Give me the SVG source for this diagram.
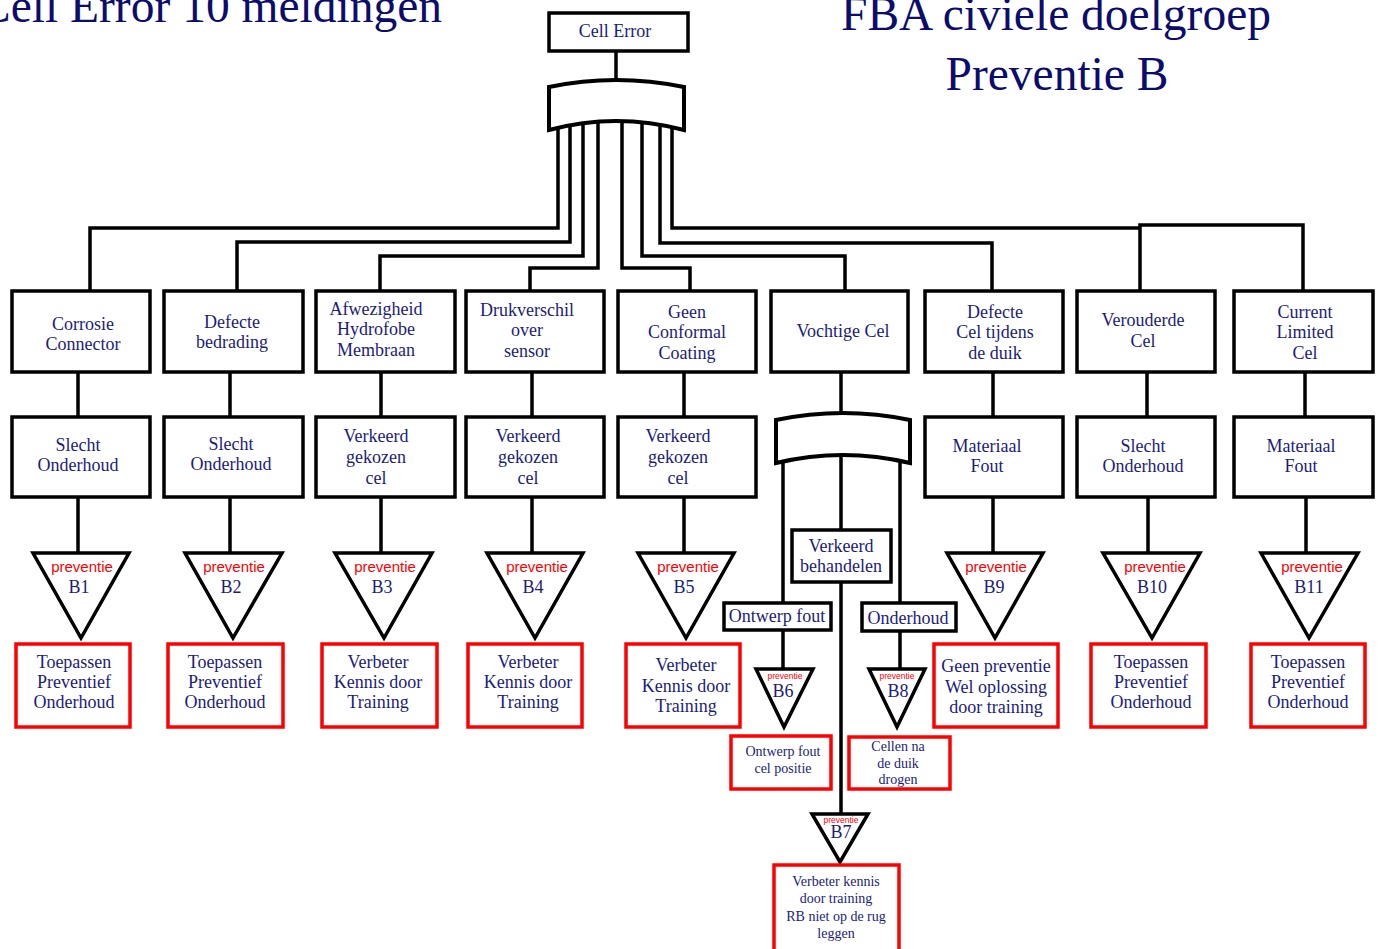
<svg xmlns="http://www.w3.org/2000/svg" width="1380" height="949" viewBox="0 0 1380 949">
<style>
.bg{fill:#fff}
.box{fill:#fff;stroke:#000;stroke-width:3.5}
.rbox{fill:#fff;stroke:#f00;stroke-width:3.5}
.tri{fill:#fff;stroke:#000;stroke-width:3.5;stroke-linejoin:miter}
.gate{fill:#fff;stroke:#000;stroke-width:4}
.con path{fill:none;stroke:#000;stroke-width:3.5}
.t{font-family:"Liberation Serif","Times New Roman",serif;font-size:18px;fill:#1c1c7a;text-anchor:middle}
.ts{font-family:"Liberation Serif","Times New Roman",serif;font-size:14px;fill:#1c1c7a;text-anchor:middle}
.p{font-family:"Liberation Sans",Arial,sans-serif;font-size:15px;fill:#f00;text-anchor:middle}
.ps{font-family:"Liberation Sans",Arial,sans-serif;font-size:8.5px;fill:#f00;text-anchor:middle}
.title{font-family:"Liberation Serif","Times New Roman",serif;font-size:47.5px;fill:#0c0c6c}
</style>
<rect class="bg" x="0" y="0" width="1380" height="949"/>
<g id="titles">
<text class="title" x="-21" y="22">Cell Error 10 meldingen</text>
<text class="title" x="1056" y="30" text-anchor="middle">FBA civiele doelgroep</text>
<text class="title" x="1057" y="90" text-anchor="middle">Preventie B</text>
</g>
<g id="connectors" class="con">
<path d="M616,52 V80"/>
<path d="M558,122 V228 H90 V290"/>
<path d="M570,122 V242 H237 V290"/>
<path d="M583,122 V256 H380 V290"/>
<path d="M598,122 V268 H530 V290"/>
<path d="M622,122 V268 H690 V290"/>
<path d="M642,122 V256 H845 V290"/>
<path d="M660,122 V243 H992 V290"/>
<path d="M672,122 V228 H1140"/>
<path d="M1140,290 V225 H1303 V290"/>
<path d="M78,372 V417 M230,372 V417 M381,372 V417 M532,372 V417 M684,372 V417 M993,372 V417 M1147,372 V417 M1305,372 V417"/>
<path d="M78,497 V553 M230,497 V553 M381,497 V553 M532,497 V553 M684,497 V553 M993,497 V553 M1148,497 V553 M1306,497 V553"/>
<path d="M841,372 V413"/>
<path d="M783,455 V602 M841,452 V529 M900,455 V602"/>
<path d="M783,630 V669 M900,631 V669 M841,582 V814"/>
</g>
<g id="gate-top"><path class="gate" d="M549,87 Q616,73 684,87 L684,130 Q616,112 549,130 Z"/></g>
<g id="gate-vochtig"><path class="gate" d="M776,420 Q843,406 910,420 L910,463 Q843,447 776,463 Z"/></g>
<g id="n-cell-error"><rect class="box" x="549" y="13" width="139" height="38"/><text class="t" x="615" y="37">Cell Error</text></g>

<g id="n-corrosie"><rect class="box" x="12" y="291" width="138" height="81"/><text class="t" x="83" y="330">Corrosie</text><text class="t" x="83" y="350">Connector</text></g>
<g id="n-bedrading"><rect class="box" x="164" y="291" width="139" height="81"/><text class="t" x="232" y="328">Defecte</text><text class="t" x="232" y="348">bedrading</text></g>
<g id="n-afwezigheid"><rect class="box" x="316" y="291" width="139" height="81"/><text class="t" x="376" y="315">Afwezigheid</text><text class="t" x="376" y="335">Hydrofobe</text><text class="t" x="376" y="356">Membraan</text></g>
<g id="n-drukverschil"><rect class="box" x="466" y="291" width="138" height="81"/><text class="t" x="527" y="316">Drukverschil</text><text class="t" x="527" y="336">over</text><text class="t" x="527" y="357">sensor</text></g>
<g id="n-conformal"><rect class="box" x="618" y="291" width="138" height="81"/><text class="t" x="687" y="318">Geen</text><text class="t" x="687" y="338">Conformal</text><text class="t" x="687" y="359">Coating</text></g>
<g id="n-vochtig"><rect class="box" x="771" y="291" width="137" height="81"/><text class="t" x="843" y="337">Vochtige Cel</text></g>
<g id="n-defecte-cel"><rect class="box" x="925" y="291" width="138" height="81"/><text class="t" x="995" y="318">Defecte</text><text class="t" x="995" y="338">Cel tijdens</text><text class="t" x="995" y="359">de duik</text></g>
<g id="n-verouderde"><rect class="box" x="1077" y="291" width="138" height="81"/><text class="t" x="1143" y="326">Verouderde</text><text class="t" x="1143" y="347">Cel</text></g>
<g id="n-current"><rect class="box" x="1234" y="291" width="139" height="81"/><text class="t" x="1305" y="318">Current</text><text class="t" x="1305" y="338">Limited</text><text class="t" x="1305" y="359">Cel</text></g>

<g id="n-slecht1"><rect class="box" x="12" y="417" width="138" height="80"/><text class="t" x="78" y="451">Slecht</text><text class="t" x="78" y="471">Onderhoud</text></g>
<g id="n-slecht2"><rect class="box" x="164" y="417" width="139" height="80"/><text class="t" x="231" y="450">Slecht</text><text class="t" x="231" y="470">Onderhoud</text></g>
<g id="n-verkeerd3"><rect class="box" x="316" y="417" width="139" height="80"/><text class="t" x="376" y="442">Verkeerd</text><text class="t" x="376" y="463">gekozen</text><text class="t" x="376" y="484">cel</text></g>
<g id="n-verkeerd4"><rect class="box" x="466" y="417" width="138" height="80"/><text class="t" x="528" y="442">Verkeerd</text><text class="t" x="528" y="463">gekozen</text><text class="t" x="528" y="484">cel</text></g>
<g id="n-verkeerd5"><rect class="box" x="618" y="417" width="138" height="80"/><text class="t" x="678" y="442">Verkeerd</text><text class="t" x="678" y="463">gekozen</text><text class="t" x="678" y="484">cel</text></g>
<g id="n-materiaal7"><rect class="box" x="925" y="417" width="138" height="80"/><text class="t" x="987" y="452">Materiaal</text><text class="t" x="987" y="472">Fout</text></g>
<g id="n-slecht8"><rect class="box" x="1077" y="417" width="138" height="80"/><text class="t" x="1143" y="452">Slecht</text><text class="t" x="1143" y="472">Onderhoud</text></g>
<g id="n-materiaal9"><rect class="box" x="1234" y="417" width="139" height="80"/><text class="t" x="1301" y="452">Materiaal</text><text class="t" x="1301" y="472">Fout</text></g>

<g id="n-verkeerd-behandelen"><rect class="box" x="792" y="530" width="99" height="52"/><text class="t" x="841" y="552">Verkeerd</text><text class="t" x="841" y="572">behandelen</text></g>
<g id="n-ontwerp-fout"><rect class="box" x="724" y="603" width="107" height="27"/><text class="t" x="777" y="622">Ontwerp fout</text></g>
<g id="n-onderhoud"><rect class="box" x="862" y="603" width="94" height="28"/><text class="t" x="908" y="624">Onderhoud</text></g>

<g id="n-b1"><path class="tri" d="M33,553 H129 L81,638 Z"/><text class="p" x="82" y="572">preventie</text><text class="t" x="79" y="593">B1</text></g>
<g id="n-b2"><path class="tri" d="M185,553 H282 L233,638 Z"/><text class="p" x="234" y="572">preventie</text><text class="t" x="231" y="593">B2</text></g>
<g id="n-b3"><path class="tri" d="M335,553 H432 L384,638 Z"/><text class="p" x="385" y="572">preventie</text><text class="t" x="382" y="593">B3</text></g>
<g id="n-b4"><path class="tri" d="M487,553 H583 L535,638 Z"/><text class="p" x="537" y="572">preventie</text><text class="t" x="533" y="593">B4</text></g>
<g id="n-b5"><path class="tri" d="M638,553 H734 L686,638 Z"/><text class="p" x="688" y="572">preventie</text><text class="t" x="684" y="593">B5</text></g>
<g id="n-b9"><path class="tri" d="M947,553 H1043 L995,638 Z"/><text class="p" x="996" y="572">preventie</text><text class="t" x="994" y="593">B9</text></g>
<g id="n-b10"><path class="tri" d="M1103,553 H1200 L1152,638 Z"/><text class="p" x="1155" y="572">preventie</text><text class="t" x="1152" y="593">B10</text></g>
<g id="n-b11"><path class="tri" d="M1261,553 H1358 L1309,638 Z"/><text class="p" x="1312" y="572">preventie</text><text class="t" x="1309" y="593">B11</text></g>
<g id="n-b6"><path class="tri" d="M756,669 H813 L784,727 Z"/><text class="ps" x="785" y="679">preventie</text><text class="t" x="783" y="697">B6</text></g>
<g id="n-b8"><path class="tri" d="M869,669 H925 L897,727 Z"/><text class="ps" x="897" y="679">preventie</text><text class="t" x="898" y="697">B8</text></g>
<g id="n-b7"><path class="tri" d="M812,814 H868 L840,862 Z"/><text class="ps" x="841" y="823">preventie</text><text class="t" x="841" y="838">B7</text></g>

<g id="n-r1"><rect class="rbox" x="16" y="644" width="114" height="83"/><text class="t" x="74" y="668">Toepassen</text><text class="t" x="74" y="688">Preventief</text><text class="t" x="74" y="708">Onderhoud</text></g>
<g id="n-r2"><rect class="rbox" x="168" y="644" width="115" height="83"/><text class="t" x="225" y="668">Toepassen</text><text class="t" x="225" y="688">Preventief</text><text class="t" x="225" y="708">Onderhoud</text></g>
<g id="n-r3"><rect class="rbox" x="322" y="644" width="115" height="83"/><text class="t" x="378" y="668">Verbeter</text><text class="t" x="378" y="688">Kennis door</text><text class="t" x="378" y="708">Training</text></g>
<g id="n-r4"><rect class="rbox" x="468" y="644" width="114" height="83"/><text class="t" x="528" y="668">Verbeter</text><text class="t" x="528" y="688">Kennis door</text><text class="t" x="528" y="708">Training</text></g>
<g id="n-r5"><rect class="rbox" x="626" y="644" width="114" height="83"/><text class="t" x="686" y="671">Verbeter</text><text class="t" x="686" y="692">Kennis door</text><text class="t" x="686" y="712">Training</text></g>
<g id="n-r9"><rect class="rbox" x="934" y="644" width="124" height="83"/><text class="t" x="996" y="672">Geen preventie</text><text class="t" x="996" y="693">Wel oplossing</text><text class="t" x="996" y="713">door training</text></g>
<g id="n-r10"><rect class="rbox" x="1091" y="644" width="115" height="83"/><text class="t" x="1151" y="668">Toepassen</text><text class="t" x="1151" y="688">Preventief</text><text class="t" x="1151" y="708">Onderhoud</text></g>
<g id="n-r11"><rect class="rbox" x="1251" y="644" width="114" height="83"/><text class="t" x="1308" y="668">Toepassen</text><text class="t" x="1308" y="688">Preventief</text><text class="t" x="1308" y="708">Onderhoud</text></g>
<g id="n-r6"><rect class="rbox" x="731" y="736" width="100" height="53"/><text class="ts" x="783" y="756">Ontwerp fout</text><text class="ts" x="783" y="773">cel positie</text></g>
<g id="n-r8"><rect class="rbox" x="849" y="737" width="101" height="52"/><text class="ts" x="898" y="751">Cellen na</text><text class="ts" x="898" y="768">de duik</text><text class="ts" x="898" y="784">drogen</text></g>
<g id="n-r7"><rect class="rbox" x="774" y="865" width="125" height="92"/><text class="ts" x="836" y="886">Verbeter kennis</text><text class="ts" x="836" y="903">door training</text><text class="ts" x="836" y="921">RB niet op de rug</text><text class="ts" x="836" y="938">leggen</text></g>
</svg>
